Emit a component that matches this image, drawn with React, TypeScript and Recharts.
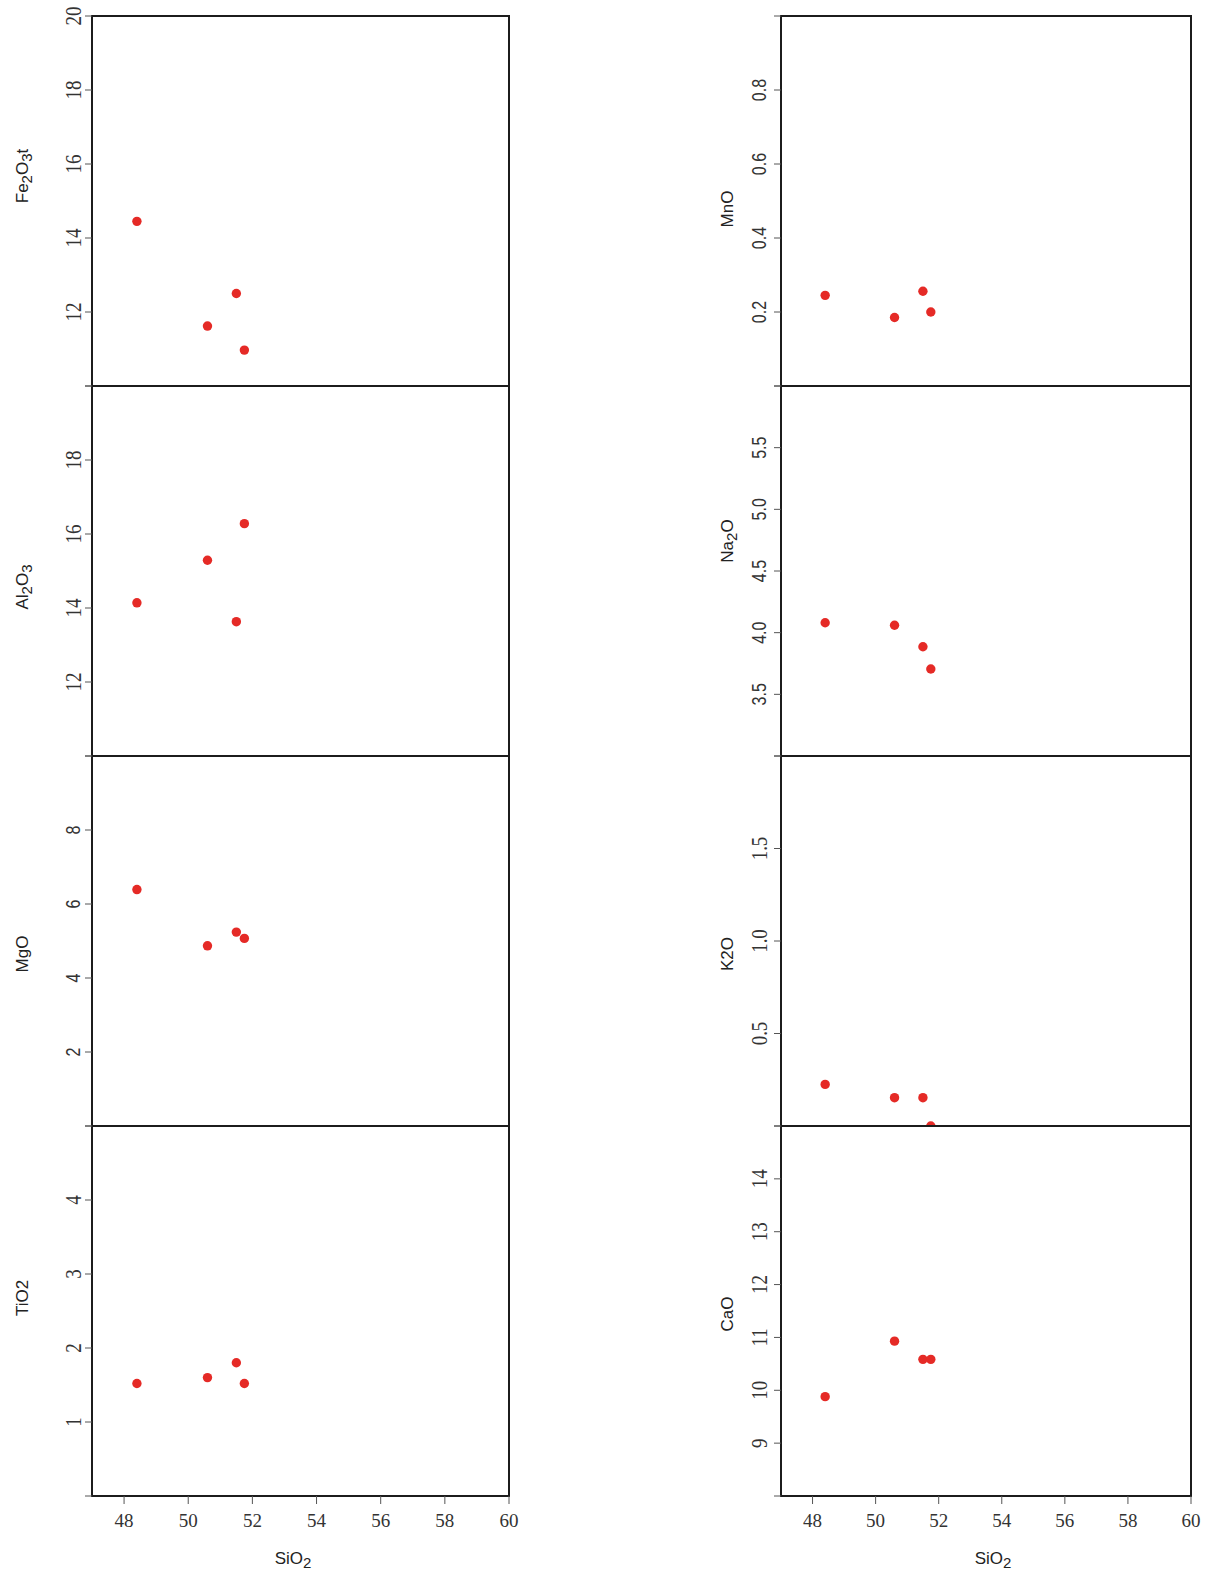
import React from 'react';
import { ScatterChart, Scatter, XAxis, YAxis, ReferenceArea, Label } from 'recharts';

// ---- data ----
const siO2 = [48.4, 50.6, 51.5, 51.75];
const fe2o3t = [14.45, 11.62, 12.5, 10.97];
const al2o3 = [14.14, 15.29, 13.63, 16.28];
const mgo = [6.39, 4.87, 5.24, 5.07];
const tio2 = [1.52, 1.6, 1.8, 1.52];
const mno = [0.245, 0.185, 0.256, 0.2];
const na2o = [4.08, 4.06, 3.886, 3.705];
const k2o = [0.225, 0.153, 0.153, 0.0];
const cao = [9.88, 10.93, 10.585, 10.585];

const xTicks = [48, 50, 52, 54, 56, 58, 60];
const xDomain = [47, 60];

const feTicks = [10, 12, 14, 16, 18, 20];
const feLabels = [12, 14, 16, 18, 20];
const alTicks = [10, 12, 14, 16, 18, 20];
const alLabels = [12, 14, 16, 18];
const mgTicks = [0, 2, 4, 6, 8, 10];
const mgLabels = [2, 4, 6, 8];
const tiTicks = [0, 1, 2, 3, 4, 5];
const tiLabels = [1, 2, 3, 4];
const mnTicks = [0, 0.2, 0.4, 0.6, 0.8, 1.0];
const mnLabels = [0.2, 0.4, 0.6, 0.8];
const naTicks = [3, 3.5, 4, 4.5, 5, 5.5, 6];
const naLabels = [3.5, 4, 4.5, 5, 5.5];
const kTicks = [0, 0.5, 1, 1.5, 2];
const kLabels = [0.5, 1, 1.5];
const caTicks = [8, 9, 10, 11, 12, 13, 14, 15];
const caLabels = [9, 10, 11, 12, 13, 14];

// ---- style / layout ----
const SERIF = '"Liberation Serif", "Times New Roman", serif';
const SANS = '"Liberation Sans", Arial, sans-serif';
const DOT = '#e52a26';
const FRAME = '#1c1c1c';
const TICK = '#555';
const PANEL_H = 370;
const PANEL_TOPS = [16, 386, 756, 1126];
const MT = 20;

type Part = { t: string; sub?: boolean };

const panels = [
  { col: 0, row: 0, title: [{ t: 'Fe' }, { t: '2', sub: true }, { t: 'O' }, { t: '3', sub: true }, { t: 't' }], values: fe2o3t, domain: [10, 20], ticks: feTicks, labels: feLabels, decimals: 0, font: SERIF, titleY: 176 },
  { col: 0, row: 1, title: [{ t: 'Al' }, { t: '2', sub: true }, { t: 'O' }, { t: '3', sub: true }], values: al2o3, domain: [10, 20], ticks: alTicks, labels: alLabels, decimals: 0, font: SERIF, titleY: 587 },
  { col: 0, row: 2, title: [{ t: 'MgO' }], values: mgo, domain: [0, 10], ticks: mgTicks, labels: mgLabels, decimals: 0, font: SANS, titleY: 954 },
  { col: 0, row: 3, title: [{ t: 'TiO2' }], values: tio2, domain: [0, 5], ticks: tiTicks, labels: tiLabels, decimals: 0, font: SERIF, titleY: 1298 },
  { col: 1, row: 0, title: [{ t: 'MnO' }], values: mno, domain: [0, 1], ticks: mnTicks, labels: mnLabels, decimals: 1, font: SANS, titleY: 209 },
  { col: 1, row: 1, title: [{ t: 'Na' }, { t: '2', sub: true }, { t: 'O' }], values: na2o, domain: [3, 6], ticks: naTicks, labels: naLabels, decimals: 1, font: SANS, titleY: 541 },
  { col: 1, row: 2, title: [{ t: 'K2O' }], values: k2o, domain: [0, 2], ticks: kTicks, labels: kLabels, decimals: 1, font: SERIF, titleY: 954 },
  { col: 1, row: 3, title: [{ t: 'CaO' }], values: cao, domain: [8, 15], ticks: caTicks, labels: caLabels, decimals: 0, font: SERIF, titleY: 1314 },
];

const columns = [
  { left: 0, yAxisW: 92, right: 11, titleX: 22, xTitleX: 293, tickOff: 10 },
  { left: 689, yAxisW: 92, right: 18, titleX: 38, xTitleX: 304, tickOff: 13 },
];

const renderParts = (parts: Part[], size: number) =>
  parts.map((p, i) => {
    const prevSub = i > 0 && parts[i - 1].sub;
    const dy = p.sub ? 4 : prevSub ? -4 : 0;
    return (
      <tspan key={i} dy={dy} fontSize={p.sub ? size - 2 : size}>
        {p.t}
      </tspan>
    );
  });

const makeYTick = (labels: number[], decimals: number, font: string, off: number) => (props: any) => {
  const { x, y, payload } = props;
  const v = payload.value;
  if (!labels.some((l) => Math.abs(l - v) < 1e-9)) return <g />;
  const cx = x - off;
  const serif = font === SERIF;
  const size = serif ? 19 : 16;
  const capH = size * (serif ? 0.66 : 0.716);
  return (
    <g transform={`translate(${cx} ${y}) rotate(-90) scale(1 1.25)`}>
      <text x={0} y={capH / 2} textAnchor="middle" fontFamily={font} fontSize={size} fill="#333">
        {v.toFixed(decimals)}
      </text>
    </g>
  );
};

const XTick = (props: any) => {
  const { x, y, payload } = props;
  return (
    <text x={x} y={y + 21} textAnchor="middle" fontFamily={SERIF} fontSize={19} fill="#333">
      {payload.value}
    </text>
  );
};

const Panel = ({ p }: { p: (typeof panels)[number] }) => {
  const c = columns[p.col];
  const bottom = p.row === 3;
  const top = PANEL_TOPS[p.row];
  const height = MT + PANEL_H + (bottom ? 78 : 10);
  const data = siO2.map((x, i) => ({ x, y: p.values[i] }));
  const titleCy = p.titleY - top + MT;
  const bx = c.titleX + 6;
  return (
    <div style={{ position: 'absolute', left: c.left, top: top - MT }}>
      <ScatterChart width={520} height={height} margin={{ top: MT, right: c.right, bottom: bottom ? 0 : 10, left: 0 }}>
        <XAxis
          type="number"
          dataKey="x"
          domain={xDomain}
          ticks={xTicks}
          interval={0}
          allowDataOverflow
          hide={!bottom}
          height={78}
          axisLine={false}
          tickLine={{ stroke: TICK }}
          tickSize={8}
          tickMargin={2}
          tick={<XTick />}
        >
          {bottom && (
            <Label
              content={() => (
                <text x={c.xTitleX} y={MT + PANEL_H + 68} textAnchor="middle" fontFamily={SANS} fontSize={17} fill="#222">
                  {renderParts([{ t: 'SiO' }, { t: '2', sub: true }], 17)}
                </text>
              )}
            />
          )}
        </XAxis>
        <YAxis
          type="number"
          dataKey="y"
          domain={p.domain}
          ticks={p.ticks}
          interval={0}
          allowDataOverflow
          width={c.yAxisW}
          axisLine={false}
          tickLine={{ stroke: TICK }}
          tickSize={7}
          tickMargin={2}
          tick={makeYTick(p.labels, p.decimals, p.font, c.tickOff)}
        >
          <Label
            content={() => (
              <text x={bx} y={titleCy} transform={`rotate(-90 ${bx} ${titleCy})`} textAnchor="middle" fontFamily={SANS} fontSize={17} fill="#222">
                {renderParts(p.title as Part[], 17)}
              </text>
            )}
          />
        </YAxis>
        <ReferenceArea x1={xDomain[0]} x2={xDomain[1]} y1={p.domain[0]} y2={p.domain[1]} fill="none" fillOpacity={0} stroke={FRAME} strokeWidth={2} ifOverflow="visible" />
        <Scatter
          data={data}
          isAnimationActive={false}
          shape={(s: any) => <circle cx={s.cx} cy={s.cy} r={4.7} fill={DOT} />}
        />
      </ScatterChart>
    </div>
  );
};

export default function App() {
  return (
    <div style={{ position: 'absolute', left: 0, top: 0, width: 1222, height: 1574, background: '#fff', overflow: 'hidden' }}>
      {panels.map((p, i) => (
        <Panel key={i} p={p} />
      ))}
    </div>
  );
}
